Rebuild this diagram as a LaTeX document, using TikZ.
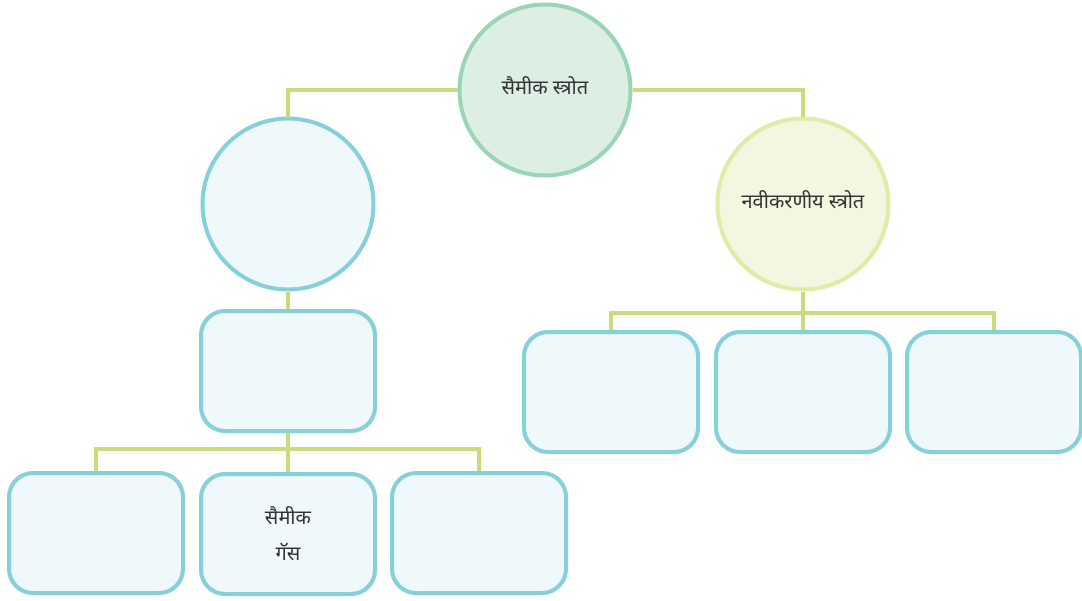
\documentclass[tikz,border=0pt]{standalone}
\usepackage{fontspec}
\newfontfamily\devfont[Script=Devanagari]{Noto Sans}
\usetikzlibrary{positioning}

\definecolor{linkgreen}{HTML}{CBDD7B}
\definecolor{topfill}{HTML}{DDEEE3}
\definecolor{topline}{HTML}{9AD5B6}
\definecolor{bluefill}{HTML}{EFF8FA}
\definecolor{blueline}{HTML}{86D0D9}
\definecolor{limefill}{HTML}{F3F7E1}
\definecolor{limeline}{HTML}{E0EBA6}
\definecolor{txtgray}{HTML}{333333}

\begin{document}
\begin{tikzpicture}[x=1pt,y=-1pt,
  font=\devfont\fontsize{20}{36}\selectfont, text=txtgray,
  srccirc/.style={circle, line width=4pt, minimum size=171pt, inner sep=0pt, align=center},
  srcbox/.style={rectangle, rounded corners=24pt, line width=4pt, draw=blueline, fill=bluefill,
    minimum width=174pt, minimum height=120pt, align=center},
  link/.style={draw=linkgreen, line width=3.6pt}]
\useasboundingbox (0,0) rectangle (1082,600);

% circles
\node[srccirc, draw=topline, fill=topfill] (top) at (545,90) {\raisebox{9pt}{सैमीक स्त्रोत}};
\node[srccirc, draw=blueline, fill=bluefill] (left) at (288,204) {};
\node[srccirc, draw=limeline, fill=limefill] (right) at (803,204) {\raisebox{9pt}{नवीकरणीय स्त्रोत}};

% boxes, left branch
\node[srcbox] (mid) at (288,371) {};
\node[srcbox] (lb1) at (96,533) {};
\node[srcbox] (lb2) at (288,534) {सैमीक\\गॅस};
\node[srcbox] (lb3) at (479,533) {};

% boxes, right branch
\node[srcbox] (rb1) at (611,392) {};
\node[srcbox] (rb2) at (803,392) {};
\node[srcbox] (rb3) at (994,392) {};

\coordinate (jl) at (288,449);
\coordinate (jr) at (803,313);

% connectors
\draw[link] (top.west) -| (left.north);
\draw[link] (top.east) -| (right.north);
\draw[link] (left.south) -- (mid.north);
\draw[link] (mid.south) -- (jl);
\draw[link] (jl) -| (lb1.north);
\draw[link] (jl) -| (lb3.north);
\draw[link] (jl) -- (lb2.north);
\draw[link] (right.south) -- (jr);
\draw[link] (jr) -| (rb1.north);
\draw[link] (jr) -| (rb3.north);
\draw[link] (jr) -- (rb2.north);
\end{tikzpicture}
\end{document}
